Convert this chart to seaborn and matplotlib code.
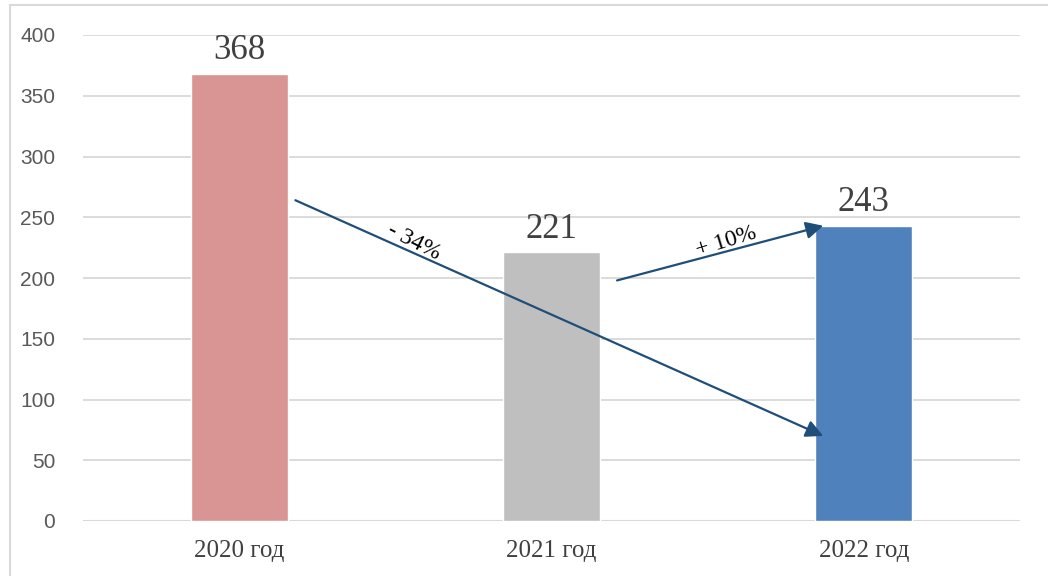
import matplotlib.pyplot as plt
import numpy as np
import pandas as pd
import seaborn as sns
from matplotlib.lines import Line2D

# chart data
years = ['2020 год', '2021 год', '2022 год']
values = [368, 221, 243]
bar_colors = ['#D99594', '#BFBFBF', '#4F81BD']

# change arrows: start/end in data units, label, label pos, rotation
change_labels = ['- 34%', '+ 10%']
arrow_from = [(0.18, 264), (1.21, 198)]
arrow_to = [(1.87, 70), (1.87, 243)]
label_pos = [(0.56, 230), (1.56, 230)]
label_rot = [-27, 17]

df = pd.DataFrame({'year': years, 'value': values})

sns.set_style('white')
plt.rcParams['font.family'] = ['Liberation Sans', 'DejaVu Sans']

fig = plt.figure(figsize=(10.48, 5.76), dpi=100)
ax = fig.add_axes([83 / 1048, 55 / 576, 937 / 1048, 486 / 576])

sns.barplot(data=df, x='year', y='value', hue='year', palette=bar_colors,
            width=0.31, legend=False, saturation=1, ax=ax)

ax.set_ylim(0, 400)
ax.set_xlim(-0.5, 2.5)
ax.set_yticks(np.arange(0, 401, 50))
ax.yaxis.grid(True, color='#D9D9D9', lw=1.3)
ax.set_axisbelow(True)
for s in ax.spines.values():
    s.set_visible(False)
ax.axhline(0, color='#D9D9D9', lw=1.5, zorder=0)
ax.set_xlabel('')
ax.set_ylabel('')
ax.tick_params(axis='y', length=0, pad=20, labelsize=15, labelcolor='#595959')
ax.tick_params(axis='x', length=0, pad=14, labelcolor='#404040')
for lab in ax.get_xticklabels():
    lab.set_fontfamily('Liberation Serif')
    lab.set_fontsize(18)

# value labels
for i, v in enumerate(values):
    ax.text(i, v + 12, str(v), ha='center', va='baseline', fontsize=25,
            fontfamily='Liberation Serif', color='#404040')

# arrows with percentage changes
for (x0, y0), (x1, y1), txt, (tx, ty), rot in zip(arrow_from, arrow_to, change_labels, label_pos, label_rot):
    ax.annotate('', xy=(x1, y1), xytext=(x0, y0),
                arrowprops=dict(arrowstyle='-|>', color='#1F4E79', lw=1.6,
                                mutation_scale=26, shrinkA=0, shrinkB=0))
    ax.text(tx, ty, txt, ha='center', va='center', rotation=rot,
            rotation_mode='anchor', fontsize=17, fontfamily='Liberation Serif', color='black')

# chart frame (top and left edges)
fig.add_artist(Line2D([10 / 1048, 1], [1 - 5 / 576, 1 - 5 / 576], color='#D9D9D9', lw=1.5))
fig.add_artist(Line2D([10 / 1048, 10 / 1048], [0, 1 - 5 / 576], color='#D9D9D9', lw=1.5))

fig.savefig('out.png', dpi=100)
